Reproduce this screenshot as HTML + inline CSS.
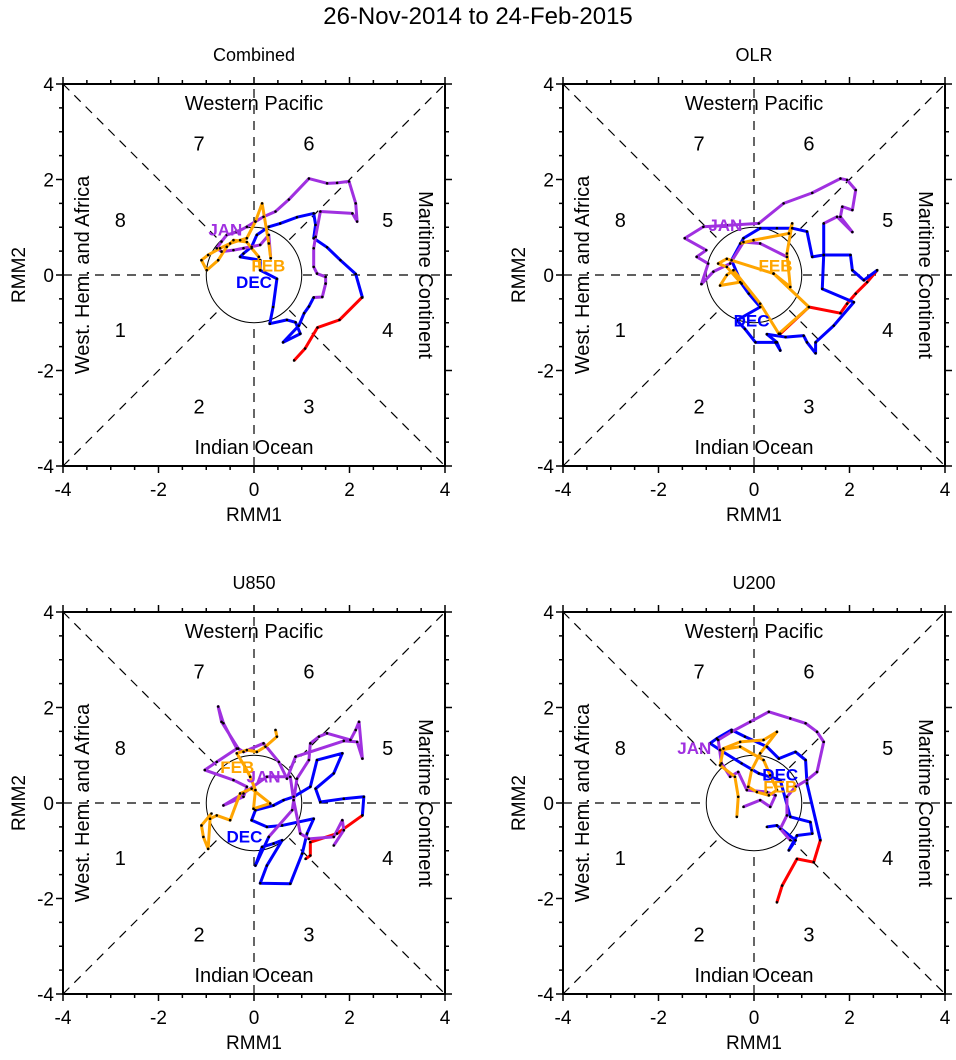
<!DOCTYPE html>
<html><head><meta charset="utf-8"><style>
body{margin:0;background:#fff;}
svg text{font-family:"Liberation Sans",Arial,sans-serif;}
</style></head><body>
<svg id="c" width="956" height="1055" xmlns="http://www.w3.org/2000/svg">
<text x="478" y="24" font-size="24" text-anchor="middle">26-Nov-2014 to 24-Feb-2015</text>
</svg>
<script>
const panelTitles=["Combined","OLR","U850","U200"];
const axisTicks=[-4,-2,0,2,4];
const monthNames=["NOV","DEC","JAN","FEB"];
const monthColors=["#ff0000","#0000ff","#a030e0","#ffa500"];
// Combined
const c_nov_x=[0.84,1.07,1.33,1.79,2.26];
const c_nov_y=[-1.79,-1.54,-1.10,-0.94,-0.47];
const c_dec_x=[2.27,2.13,1.81,1.53,1.25,1.29,1.25,0.90,0.55,0.31,0.06,-0.05,-0.22,-0.29,0.13,0.13,0.48,0.40,0.33,0.69,0.87,0.97,0.61,0.94,1.05,1.15,1.25];
const c_dec_y=[-0.47,0.02,0.31,0.58,0.77,1.05,1.29,1.21,1.08,1.01,0.84,0.59,0.45,0.38,0.31,0.10,-0.08,-0.67,-1.02,-0.94,-0.99,-1.23,-1.41,-1.06,-0.80,-0.66,-0.47];
const c_jan_x=[1.25,1.43,1.50,1.50,1.32,1.25,1.25,1.29,1.39,2.06,2.16,2.13,1.99,1.74,1.53,1.15,0.73,0.45,0.20,0.03,-0.15,-0.36,-0.57,-0.68,-0.78,-0.68,-0.43,-0.22,0.13,0.31,0.35];
const c_jan_y=[-0.47,-0.46,-0.18,-0.04,0.03,0.17,0.56,0.80,1.33,1.29,1.12,1.50,1.96,1.93,1.92,2.02,1.58,1.33,1.22,1.12,1.01,0.90,0.84,0.70,0.56,0.49,0.52,0.56,0.63,0.84,0.35];
const c_feb_x=[0.35,0.31,0.17,0.03,-0.15,-0.29,-0.50,-0.71,-0.96,-1.10,-0.99,-0.75,-0.57,-0.43,-0.15,-0.05,0.10,0.13];
const c_feb_y=[0.35,0.66,1.50,1.12,0.77,0.73,0.66,0.56,0.42,0.31,0.10,0.31,0.59,0.73,0.69,0.56,0.38,0.10];
// OLR
const o_nov_x=[0.55,1.15,1.81,1.95,2.13,2.37,2.58];
const o_nov_y=[-1.23,-0.67,-0.80,-0.60,-0.39,-0.15,0.10];
const o_dec_x=[2.58,2.30,2.06,2.02,1.46,1.43,2.09,1.67,1.29,1.29,1.11,1.04,0.66,0.27,0.48,0.55,0.45,0.03,-0.19,-0.36,0.13,-0.11,-0.26,-0.47,-0.22,0.13,0.48,0.80,1.11,1.22,1.46,1.46];
const o_dec_y=[0.10,-0.11,0.10,0.42,0.42,-0.29,-0.57,-1.06,-1.41,-1.64,-1.41,-1.27,-1.30,-1.24,-1.41,-1.58,-1.41,-1.41,-1.13,-0.95,-0.67,-0.39,-0.18,0.31,0.77,0.98,0.98,0.98,0.91,0.38,0.42,1.08];
const o_jan_x=[1.46,1.74,2.06,1.81,1.85,2.06,2.13,1.95,1.81,1.22,0.62,0.10,-0.57,-1.06,-1.45,-1.0,-1.2,-0.96,-1.10,-0.85,-0.50,-0.22,0.13,0.69];
const o_jan_y=[1.08,1.22,0.90,1.22,1.43,1.36,1.78,1.99,2.02,1.72,1.50,1.08,1.04,1.01,0.77,0.52,0.38,0.24,-0.19,0.07,0.24,0.69,0.66,0.38];
const o_feb_x=[-0.29,-0.01,0.73,0.80,0.69,0.76,0.41,-0.57,-0.75,-0.57,-0.29,-0.71,-0.57,-0.43,0.13,0.52,1.15,0.41];
const o_feb_y=[0.66,0.73,0.87,1.08,0.45,-0.25,0.03,0.34,0.24,0.17,-0.15,-0.22,0.0,0.10,-0.60,-1.23,-0.67,0.03];
// U850
const u8_nov_x=[1.08,1.18,1.18,1.74,2.27];
const u8_nov_y=[-1.17,-1.10,-0.82,-0.64,-0.26];
const u8_dec_x=[2.27,2.30,1.88,1.39,1.29,1.67,1.85,1.32,1.18,0.83,0.62,0.41,0.03,-0.05,0.27,0.59,1.25,1.11,1.01,0.76,0.13,0.27,0.59,0.41,0.17,0.03,0.31];
const u8_dec_y=[-0.26,0.13,0.09,0.02,0.30,0.62,1.04,0.90,0.34,0.13,0.06,-0.05,-0.15,-0.36,-0.50,-0.47,-0.33,-0.64,-1.06,-1.69,-1.68,-1.31,-0.78,-0.85,-0.92,-1.31,-0.71];
const u8_jan_x=[0.31,0.80,0.90,1.15,1.18,1.36,1.53,2.02,2.13,2.20,2.27,2.16,1.88,0.87,0.69,0.52,0.20,-0.22,-0.33,-0.68,-0.75,-0.64,-0.36,-0.78,-1.03,-0.43,-0.15,-0.22,-0.64,-0.22,0.27,0.76,0.83,0.97,1.15,1.67,1.85,1.88,1.67];
const u8_jan_y=[-0.71,-0.15,0.51,0.90,1.25,1.39,1.46,1.32,1.53,1.70,0.93,1.28,1.30,0.97,0.51,0.86,1.25,1.07,1.14,1.70,2.02,1.67,1.14,0.86,0.69,0.48,0.34,0.13,-0.05,0.20,0.55,0.55,0.06,-0.64,-0.75,-0.71,-0.36,-0.57,-0.89];
const u8_feb_x=[0.45,0.48,0.24,0.06,-0.15,-0.36,-0.19,-0.08,0.03,-0.01,0.34,-0.05,-0.29,-0.50,-0.78,-0.92,-0.96,-1.06,-1.10,-0.89];
const u8_feb_y=[1.53,1.39,1.18,1.07,1.11,1.04,0.76,0.55,0.27,-0.12,-0.01,0.30,0.20,-0.36,-0.26,-0.33,-0.96,-0.71,-0.47,-0.22];
// U200
const u2_nov_x=[0.48,0.59,0.90,1.25,1.39];
const u2_nov_y=[-2.08,-1.73,-1.17,-1.24,-0.78];
const u2_dec_x=[1.39,1.11,1.08,0.87,0.52,0.27,-0.19,-0.47,-0.78,-0.92,-0.71,-0.26,0.10,0.55,0.76,1.18,1.22,0.90,0.73,0.87,0.48,0.27];
const u2_dec_y=[-0.78,0.41,0.90,1.07,0.93,1.18,1.39,1.53,1.35,1.25,1.11,0.83,0.62,0.48,-0.29,-0.40,-0.64,-0.68,-0.99,-0.78,-0.47,-0.50];
const u2_jan_x=[0.76,0.55,0.69,0.69,0.87,1.11,1.32,1.46,1.32,1.08,0.76,0.31,-0.08,-0.47,-0.75,-0.68,-0.50,-0.33,-0.15,0.27,0.45,0.34,0.13,-0.22];
const u2_jan_y=[-0.78,-0.54,-0.26,0.13,0.34,0.48,0.65,1.28,1.49,1.67,1.77,1.91,1.70,1.49,1.32,0.83,0.55,0.65,0.27,0.23,0.16,-0.08,0.06,-0.08];
const u2_feb_x=[-0.36,-0.33,-0.40,-0.71,-0.64,-0.29,0.20,0.48,0.13,-0.05,-0.12,0.06,0.31,0.48,0.34,0.20,-0.29,-0.71];
const u2_feb_y=[-0.29,0.13,0.55,0.79,1.14,1.28,1.32,1.49,1.04,0.69,0.34,0.23,0.16,0.27,0.58,0.90,1.18,1.11];
// month label positions (data units)
const c_lbl=[[null],[0,-0.15],[-0.6,0.95],[0.3,0.2]];
const o_lbl=[[null],[-0.05,-0.95],[-0.6,1.05],[0.45,0.2]];
const u8_lbl=[[null],[-0.2,-0.7],[0.2,0.55],[-0.35,0.75]];
const u2_lbl=[[null],[0.55,0.6],[-1.25,1.15],[0.55,0.35]];

const panels=[
 {x0:63,y0:84,series:[[c_nov_x,c_nov_y],[c_dec_x,c_dec_y],[c_jan_x,c_jan_y],[c_feb_x,c_feb_y]],lbl:c_lbl},
 {x0:563,y0:84,series:[[o_nov_x,o_nov_y],[o_dec_x,o_dec_y],[o_jan_x,o_jan_y],[o_feb_x,o_feb_y]],lbl:o_lbl},
 {x0:63,y0:612,series:[[u8_nov_x,u8_nov_y],[u8_dec_x,u8_dec_y],[u8_jan_x,u8_jan_y],[u8_feb_x,u8_feb_y]],lbl:u8_lbl},
 {x0:563,y0:612,series:[[u2_nov_x,u2_nov_y],[u2_dec_x,u2_dec_y],[u2_jan_x,u2_jan_y],[u2_feb_x,u2_feb_y]],lbl:u2_lbl}
];
const NS="http://www.w3.org/2000/svg";
const svg=document.getElementById('c');
const S=382;
function mk(tag,attrs,parent,txt){const e=document.createElementNS(NS,tag);for(const k in attrs)e.setAttribute(k,attrs[k]);if(txt!==undefined)e.textContent=txt;parent.appendChild(e);return e;}
panels.forEach((p,pi)=>{
 const g=mk('g',{},svg);
 
 
 const sx=v=>p.x0+(v+4)/8*S, sy=v=>p.y0+(4-v)/8*S;
 const cx=sx(0),cy=sy(0);
 const t=mk('text',{x:cx,y:p.y0-23,'font-size':18,'text-anchor':'middle'},g,panelTitles[pi]);
 
 
 const d='stroke:#000;stroke-width:1.2;stroke-dasharray:9,7;fill:none';
 [[sx(-4),sy(-4),sx(4),sy(4)],[sx(-4),sy(4),sx(4),sy(-4)],[sx(-4),cy,sx(4),cy],[cx,sy(-4),cx,sy(4)]].forEach(l=>{
  const ln=mk('line',{x1:l[0],y1:l[1],x2:l[2],y2:l[3],style:d},g);
  
  
 });
 const circ=mk('circle',{cx:cx,cy:cy,r:S/8,fill:'#fff',stroke:'#000','stroke-width':1},g);
 
 
 const r1=mk('text',{x:cx,y:sy(3.6)+7,'font-size':20,'text-anchor':'middle'},g,'Western Pacific');
 
 const r2=mk('text',{x:cx,y:sy(-3.6)+7,'font-size':20,'text-anchor':'middle'},g,'Indian Ocean');
 
 const r3=mk('text',{x:0,y:0,'font-size':20,'text-anchor':'middle',transform:`translate(${sx(-3.6)+7},${cy}) rotate(-90)`},g,'West. Hem. and Africa');
 
 const r4=mk('text',{x:0,y:0,'font-size':20,'text-anchor':'middle',transform:`translate(${sx(3.6)-7},${cy}) rotate(90)`},g,'Maritime Continent');
 
 [[7,-1.15,2.75],[6,1.15,2.75],[8,-2.8,1.15],[5,2.8,1.15],[1,-2.8,-1.15],[4,2.8,-1.15],[2,-1.15,-2.75],[3,1.15,-2.75]].forEach(ph=>{
  const pt=mk('text',{x:sx(ph[1]),y:sy(ph[2])+7,'font-size':20,'text-anchor':'middle'},g,String(ph[0]));
  
  
 });
 p.series.forEach((s,si)=>{
  const pts=s[0].map((v,i)=>sx(v)+','+sy(s[1][i])).join(' ');
  const pl=mk('polyline',{points:pts,fill:'none',stroke:monthColors[si],'stroke-width':3,'stroke-linejoin':'round'},g);
  
  
 });
 p.series.forEach((s,si)=>{
  s[0].forEach((v,i)=>{
   const dt=mk('circle',{cx:sx(v),cy:sy(s[1][i]),r:1.3,fill:'#000'},g);
   
   
  });
 });
 p.lbl.forEach((l,li)=>{
  if(l[0]===null)return;
  const ml=mk('text',{x:sx(l[0]),y:sy(l[1])+6,'font-size':17,'font-weight':'bold','text-anchor':'middle',fill:monthColors[li]},g,monthNames[li]);
  
  
 });
 const fr=mk('rect',{x:p.x0,y:p.y0,width:S,height:S,fill:'none',stroke:'#000','stroke-width':2},g);
 
 
 for(let v=-4;v<=4.001;v+=0.5){
  const maj=Math.abs(v-Math.round(v/2)*2)<0.01;const L=maj?7:4;
  mk('line',{x1:sx(v),y1:p.y0+S,x2:sx(v),y2:p.y0+S+L,stroke:'#000','stroke-width':1.5},g);
  mk('line',{x1:sx(v),y1:p.y0,x2:sx(v),y2:p.y0-L,stroke:'#000','stroke-width':1.5},g);
  mk('line',{x1:p.x0,y1:sy(v),x2:p.x0-L,y2:sy(v),stroke:'#000','stroke-width':1.5},g);
  mk('line',{x1:p.x0+S,y1:sy(v),x2:p.x0+S+L,y2:sy(v),stroke:'#000','stroke-width':1.5},g);
 }
 axisTicks.forEach(v=>{
  const xt=mk('text',{x:sx(v),y:p.y0+S+30,'font-size':19,'text-anchor':'middle'},g,String(v));
  
  
  const yt=mk('text',{x:p.x0-9,y:sy(v)+7,'font-size':19,'text-anchor':'end'},g,String(v));
  
  
 });
 const xa=mk('text',{x:cx,y:p.y0+S+55,'font-size':19,'text-anchor':'middle'},g,'RMM1');
 
 
 const ya=mk('text',{x:0,y:0,'font-size':19,'text-anchor':'middle',transform:`translate(${p.x0-38},${cy}) rotate(-90)`},g,'RMM2');
 
 
});
</script>
</body></html>
